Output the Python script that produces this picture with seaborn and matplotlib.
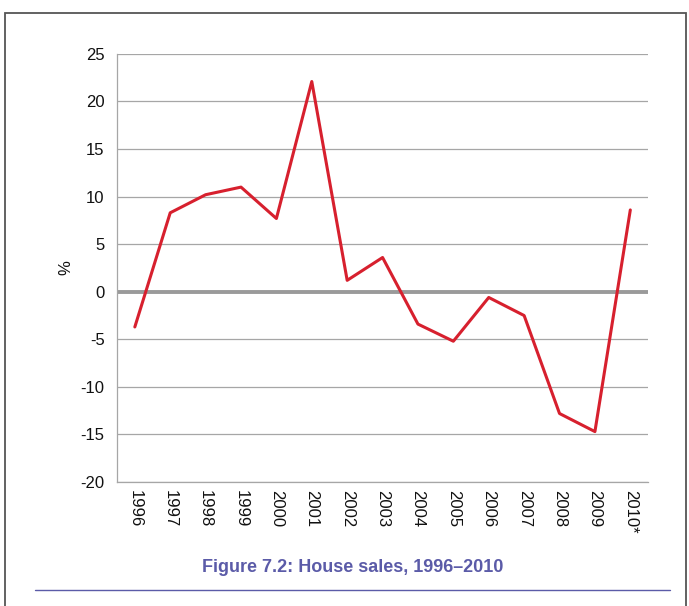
import matplotlib.pyplot as plt
import matplotlib.patches as mpatches
import matplotlib.lines as mlines
import seaborn as sns
import pandas as pd
import numpy as np

# house sales, % change
years = ["1996", "1997", "1998", "1999", "2000", "2001", "2002", "2003",
         "2004", "2005", "2006", "2007", "2008", "2009", "2010*"]
change = [-3.7, 8.3, 10.2, 11.0, 7.7, 22.1, 1.2, 3.6,
          -3.4, -5.2, -0.6, -2.5, -12.8, -14.7, 8.6]
yticks = [-20, -15, -10, -5, 0, 5, 10, 15, 20, 25]

df = pd.DataFrame({"year": years, "change": change})

sns.set_theme(style="white")
plt.rcParams['font.family'] = ['Liberation Sans Narrow', 'Liberation Sans', 'DejaVu Sans']

fig = plt.figure(figsize=(6.89, 6.06), dpi=100)
ax = fig.add_axes([0.170, 0.2046, 0.7705, 0.7064])

grey = "#a6a6a6"
for v in yticks:
    if v == 0:
        continue
    ax.axhline(v, color=grey, lw=0.9, zorder=1)
ax.axhline(0, color="#9a9a9a", lw=2.8, zorder=2)

sns.lineplot(data=df, x="year", y="change", sort=False, color="#d7202e",
             linewidth=2.2, ax=ax, zorder=3)

ax.set_xlim(-0.5, len(years) - 0.5)
ax.set_ylim(-20, 25)
ax.set_yticks(yticks)
ax.set_yticklabels([str(v) for v in yticks], fontsize=12, color="#111111")
ax.set_xticks(range(len(years)))
ax.set_xticklabels(years, rotation=270, fontsize=12, color="#111111")
ax.set_xticks(np.arange(-0.5, len(years), 1.0), minor=True)
ax.tick_params(axis="x", which="major", length=0, pad=6)
ax.tick_params(axis="x", which="minor", length=5, color=grey, width=0.9, direction="out")
ax.tick_params(axis="y", length=5, color=grey, width=0.9, direction="out", pad=4)
ax.set_xlabel("")
ax.set_ylabel("%", fontsize=12, color="#111111", labelpad=5)

for s in ["top", "right"]:
    ax.spines[s].set_visible(False)
for s in ["left", "bottom"]:
    ax.spines[s].set_color(grey)
    ax.spines[s].set_linewidth(0.9)

# outer frame
frame = mpatches.Rectangle((5 / 689, -0.05), 681 / 689, 1.05 - 13 / 606,
                           transform=fig.transFigure, fill=False,
                           edgecolor="#555555", lw=1.3, clip_on=False)
fig.patches.append(frame)

fig.text(0.512, 1 - 568 / 606, "Figure 7.2: House sales, 1996\u20132010",
         ha="center", va="center", fontsize=13, fontweight="bold", color="#5b5ba8")
fig.lines.append(mlines.Line2D([35 / 689, 670 / 689], [1 - 590 / 606] * 2,
                               transform=fig.transFigure, color="#5b5ba8", lw=1.0))

plt.savefig("out.png", dpi=100)
